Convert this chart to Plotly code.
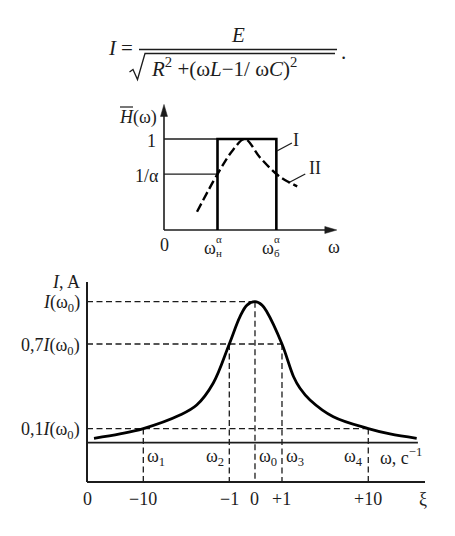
import plotly.graph_objects as go

W, H = 455, 536
FONT = "Liberation Serif"
INK = "#1c1c1c"

# ---------------- data: resonance curve I(omega) ----------------
omega_curve = [0.207, 0.976, 1.666, 2.751, 3.246, 3.737, 4.21, 4.527, 4.734, 4.97,
               5.178, 5.32, 5.769, 6.112, 6.302, 6.598, 7.287, 8.322, 8.964, 9.754]
current_curve = [0.031, 0.062, 0.10, 0.196, 0.267, 0.423, 0.70, 0.894, 0.976, 1.0,
                 0.976, 0.929, 0.70, 0.468, 0.386, 0.303, 0.184, 0.10, 0.062, 0.031]

# characteristic frequencies, the level each one is read at, and their xi values
mark_names = ["ω<sub>1</sub>", "ω<sub>2</sub>", "ω<sub>0</sub>", "ω<sub>3</sub>", "ω<sub>4</sub>"]
mark_omega = [1.666, 4.21, 4.97, 5.769, 8.322]
mark_level = [0.1, 0.7, 1.0, 0.7, 0.1]
mark_side = ["right", "left", "right", "right", "left"]
xi_labels = ["−10", "−1", "0", "+1", "+10"]

level_values = [1.0, 0.7, 0.1]
level_labels = ["<i>I</i>(ω<sub>0</sub>)", "0,7<i>I</i>(ω<sub>0</sub>)", "0,1<i>I</i>(ω<sub>0</sub>)"]

omega_axis_end = 9.79
xi_axis_end = 10.0
xi_axis_level = -0.279
i_axis_top = 1.14

# ---------------- data: transfer function H(omega) ----------------
omega_low, omega_high = 1.0, 2.1
inv_alpha = 0.615
band_omega = [0.617, 1.0, 1.29, 1.51, 1.79, 2.10, 2.26, 2.49]
band_h = [0.20, 0.615, 0.88, 1.0, 0.80, 0.615, 0.55, 0.48]
h_axis_top = 1.38
w_axis_end = 3.23


def paper(px, py):
    return px / W, 1 - py / H


fig = go.Figure()

# lower panel curve
fig.add_trace(go.Scatter(
    x=omega_curve, y=current_curve, mode="lines",
    line=dict(color="#000000", width=2.8, shape="spline", smoothing=1.0),
    xaxis="x", yaxis="y", hoverinfo="skip", showlegend=False))

# upper panel dashed curve II
fig.add_trace(go.Scatter(
    x=band_omega, y=band_h, mode="lines",
    line=dict(color="#000000", width=2.4, shape="spline", smoothing=1.0, dash="9px,4px"),
    xaxis="x2", yaxis="y2", hoverinfo="skip", showlegend=False))

shapes = []
ann = []


def line(x0, y0, x1, y1, ref, width=1.3, dash=None, color=INK):
    xr, yr = ref
    d = dict(color=color, width=width)
    if dash:
        d["dash"] = dash
    shapes.append(dict(type="line", xref=xr, yref=yr, x0=x0, y0=y0, x1=x1, y1=y1,
                       line=d, layer="below"))


def text(s, x, y, ref, size=18, xanchor="center", yanchor="middle", xshift=0, yshift=0):
    xr, yr = ref
    ann.append(dict(text=s, x=x, y=y, xref=xr, yref=yr, showarrow=False,
                    xanchor=xanchor, yanchor=yanchor, xshift=xshift, yshift=yshift,
                    font=dict(family=FONT, size=size, color=INK)))


LOW = ("x", "y")
UP = ("x2", "y2")
PAP = ("paper", "paper")

# ---------- lower panel axes ----------
line(0, xi_axis_level, 0, i_axis_top, LOW, width=2)
line(0, 0, omega_axis_end, 0, LOW, width=1.8)
line(0, xi_axis_level, xi_axis_end, xi_axis_level, LOW, width=2)

# dashed guides
DASH = "6px,3.5px"
for lv in level_values:
    right = max(o for o, l in zip(mark_omega, mark_level) if l == lv)
    line(0, lv, right, lv, LOW, width=1.3, dash=DASH)
for o, lv in zip(mark_omega, mark_level):
    line(o, lv, o, xi_axis_level, LOW, width=1.3, dash=DASH)

# y labels
text("<i>I</i>, A", 0, i_axis_top, LOW, xanchor="right", xshift=-5, yshift=0)
for lv, lab in zip(level_values, level_labels):
    text(lab, 0, lv, LOW, xanchor="right", xshift=-5, yshift=-2)

# omega labels along the omega axis
for name, o, side in zip(mark_names, mark_omega, mark_side):
    if side == "right":
        text(name, o, 0, LOW, xanchor="left", yanchor="top", xshift=2, yshift=-1)
    else:
        text(name, o, 0, LOW, xanchor="right", yanchor="top", xshift=-3, yshift=-1)
text("ω, с<sup>−1</sup>", omega_axis_end, 0, LOW, xanchor="right", yanchor="top", xshift=6, yshift=0)

# xi labels
text("0", 0, xi_axis_level, LOW, yanchor="top", yshift=-5)
for o, lab in zip(mark_omega, xi_labels):
    text(lab, o, xi_axis_level, LOW, yanchor="top", yshift=-5)
text("ξ", xi_axis_end, xi_axis_level, LOW, yanchor="top", yshift=-5, xshift=-2)

# ---------- upper panel ----------
line(0, 0, 0, h_axis_top - 0.05, UP, width=1.6)
line(0, 0, w_axis_end - 0.1, 0, UP, width=1.6)
# arrowheads
shapes.append(dict(type="path", xref="x2", yref="y2", xsizemode="pixel", ysizemode="pixel",
                   xanchor=0, yanchor=h_axis_top, path="M 0,0 L -3.5,-12 L 3.5,-12 Z",
                   fillcolor=INK, line=dict(color=INK, width=0.5)))
shapes.append(dict(type="path", xref="x2", yref="y2", xsizemode="pixel", ysizemode="pixel",
                   xanchor=w_axis_end, yanchor=0, path="M 0,0 L -12,3.5 L -12,-3.5 Z",
                   fillcolor=INK, line=dict(color=INK, width=0.5)))

# thin level lines
line(0, 1, omega_low, 1, UP, width=1.3)
line(0, inv_alpha, omega_low, inv_alpha, UP, width=1.3)
# ideal band (curve I)
shapes.append(dict(type="path", xref="x2", yref="y2",
                   path=f"M {omega_low},0 L {omega_low},1 L {omega_high},1 L {omega_high},0",
                   line=dict(color="#000000", width=2.6), layer="below"))
# leaders
line(2.11, 0.868, 2.39, 0.956, UP, width=1.3)
line(2.32, 0.516, 2.64, 0.615, UP, width=1.3)
text("I", 2.46, 0.99, UP)
text("II", 2.82, 0.676, UP)

text("1", 0, 1, UP, xanchor="right", xshift=-6, yshift=-2)
text("1/α", 0, inv_alpha, UP, xanchor="right", xshift=-3, yshift=-2)
text("<i>H</i>(ω)", 0, h_axis_top, UP, xanchor="right", xshift=-5, yshift=-13)
# bar over H
bx0, by = paper(120, 107)
bx1, _ = paper(133, 107)
shapes.append(dict(type="line", xref="paper", yref="paper", x0=bx0, x1=bx1, y0=by, y1=by,
                   line=dict(color=INK, width=1.2)))

text("0", 0, 0, UP, yanchor="top", yshift=-3)
for o, sub in ((omega_low, "н"), (omega_high, "б")):
    text("ω", o, 0, UP, xanchor="right", yanchor="top", xshift=0, yshift=-6)
    text("α<br>" + sub, o, 0, UP, size=11, xanchor="left", yanchor="top", xshift=-4, yshift=-1)
text("ω", w_axis_end, 0, UP, yanchor="top", yshift=-5, xshift=-3)

# ---------- formula ----------
for s, px, py, size in (("<i>I</i>", 112, 48, 21), ("=", 127, 48, 21), ("<i>E</i>", 238, 35, 21),
                        (".", 343, 52, 21)):
    x, y = paper(px, py)
    text(s, x, y, PAP, size=size)
x, y = paper(149, 67)
text("<i>R</i><sup>2</sup> +(ω<i>L</i>−1/ ω<i>C</i>)<sup>2</sup>", x, y, PAP, size=21, xanchor="left")
fx0, fy = paper(139, 49.5)
fx1, _ = paper(337, 49.5)
shapes.append(dict(type="line", xref="paper", yref="paper", x0=fx0, x1=fx1, y0=fy, y1=fy,
                   line=dict(color=INK, width=1.4)))
rad = [paper(129.5, 72), paper(133, 69.5), paper(137.5, 79.5), paper(145, 53.5), paper(335, 53.5)]
shapes.append(dict(type="path", xref="paper", yref="paper",
                   path="M " + " L ".join(f"{a},{b}" for a, b in rad),
                   line=dict(color=INK, width=1.3)))

hidden = dict(visible=False, fixedrange=True)
fig.update_layout(
    width=W, height=H, margin=dict(l=0, r=0, t=0, b=0),
    paper_bgcolor="white", plot_bgcolor="white",
    xaxis=dict(range=[-87 / 33.8, (W - 87) / 33.8], domain=[0, 1], **hidden),
    yaxis=dict(range=[(442.7 - H) / 141, 442.7 / 141], domain=[0, 1], **hidden),
    xaxis2=dict(range=[-164 / 53.5, (W - 164) / 53.5], domain=[0, 1], overlaying="x", **hidden),
    yaxis2=dict(range=[(230 - H) / 91, 230 / 91], domain=[0, 1], overlaying="y", **hidden),
    shapes=shapes, annotations=ann, showlegend=False,
)

fig.write_html("out.html", config={"displayModeBar": False})
